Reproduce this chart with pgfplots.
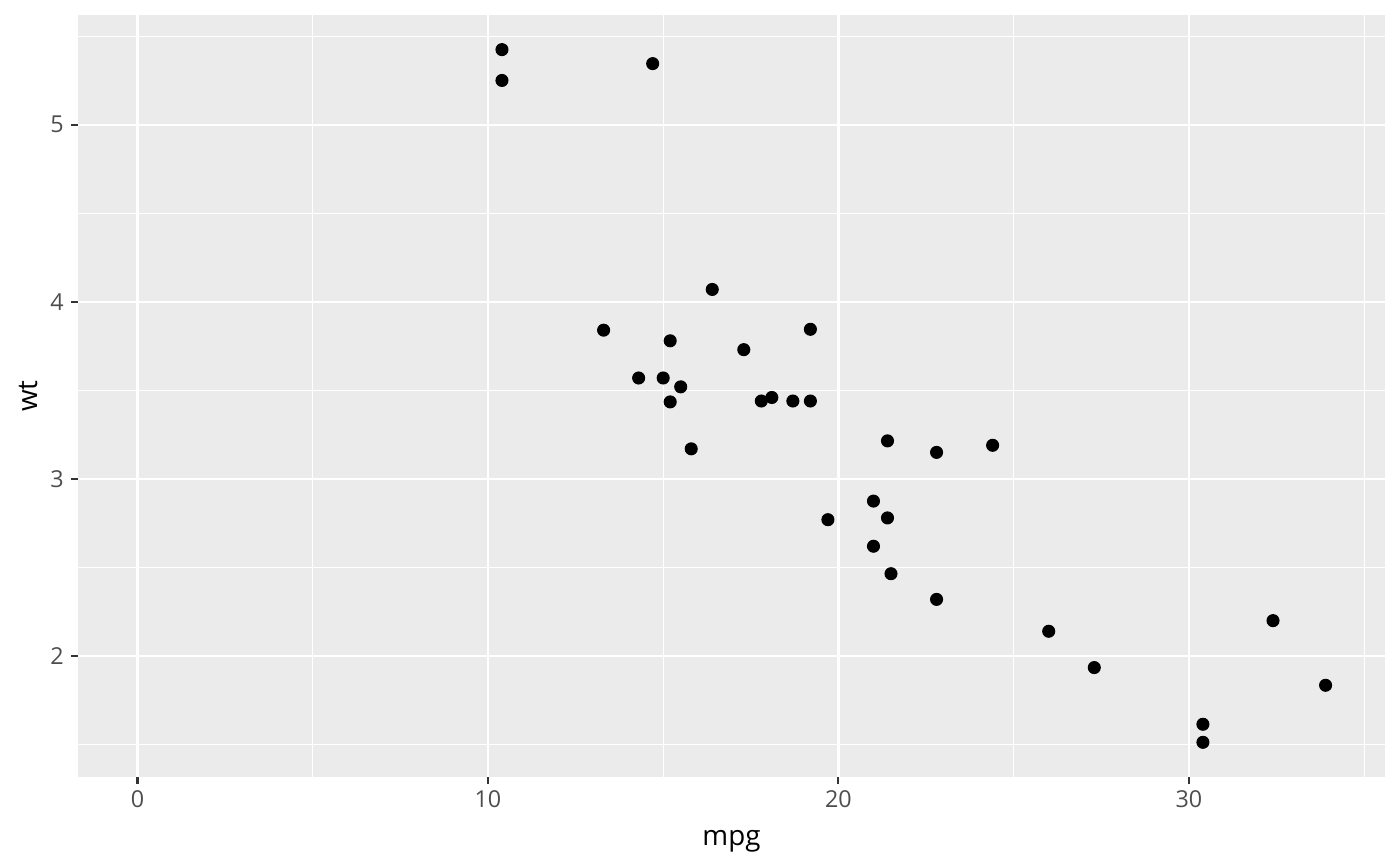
\documentclass[border=0pt]{standalone}
\usepackage{fontspec}
\setmainfont{Open Sans}
\usepackage{pgfplots}
\pgfplotsset{compat=1.18}
\definecolor{panel}{HTML}{EBEBEB}
\definecolor{grey30}{HTML}{4D4D4D}
\definecolor{grey20}{HTML}{333333}

% mtcars: mpg against wt
\pgfplotstableread{
mpg wt
21.0 2.620
21.0 2.875
22.8 2.320
21.4 3.215
18.7 3.440
18.1 3.460
14.3 3.570
24.4 3.190
22.8 3.150
19.2 3.440
17.8 3.440
16.4 4.070
17.3 3.730
15.2 3.780
10.4 5.250
10.4 5.424
14.7 5.345
32.4 2.200
30.4 1.615
33.9 1.835
21.5 2.465
15.5 3.520
15.2 3.435
13.3 3.840
19.2 3.845
27.3 1.935
26.0 2.140
30.4 1.513
15.8 3.170
19.7 2.770
15.0 3.570
21.4 2.780
}\cars

\begin{document}
\begin{tikzpicture}
\begin{axis}[
name=ax,
scale only axis,
width=470.5pt, height=274.3pt,
xmin=-1.695, xmax=35.595,
ymin=1.31745, ymax=5.61955,
axis background/.style={fill=panel},
axis line style={draw=none},
xtick={0,10,20,30}, ytick={2,3,4,5},
minor xtick={5,15,25,35},
minor ytick={1.5,2.5,3.5,4.5,5.5},
grid=both,
major grid style={white, line width=0.8pt},
minor grid style={white, line width=0.4pt},
xtick pos=bottom, ytick pos=left,
tick align=outside,
major tick length=2.5pt, minor tick length=0pt,
every tick/.style={grey20, line width=0.75pt},
every tick label/.append style={font=\fontsize{8.4}{10}\selectfont, text=grey30, inner sep=0pt},
xticklabel style={yshift=-2.2pt},
yticklabel style={xshift=-2.5pt},
/pgf/number format/assume math mode=true,
xlabel={mpg}, ylabel={wt},
label style={font=\fontsize{10.5}{12}\selectfont, text=black, inner sep=0pt},
every axis x label/.style={at={(axis description cs:0.5,0)}, anchor=center, yshift=-23.2pt},
every axis y label/.style={at={(axis description cs:0,0.5)}, anchor=center, rotate=90, yshift=18pt},
]
\addplot[only marks, mark=*, mark size=2.15pt, black] table[x=mpg, y=wt] {\cars};
\end{axis}
\path ([xshift=-28.1pt, yshift=-32pt]ax.south west) rectangle ([xshift=5.4pt, yshift=5.4pt]ax.north east);
\end{tikzpicture}
\end{document}
